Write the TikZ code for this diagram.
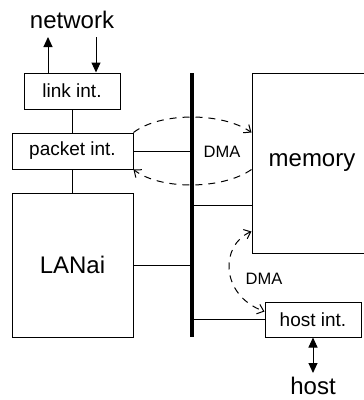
\documentclass[tikz,border=0pt]{standalone}
\usepackage{fontspec}
\setmainfont{Liberation Sans}
\usetikzlibrary{arrows.meta}

\begin{document}
\begin{tikzpicture}[x=1pt,y=-1pt,
    blk/.style={draw,line width=1pt,inner sep=0pt},
    wire/.style={line width=1pt},
    sig/.style={line width=1pt,>={Triangle[length=10pt,width=9pt]}},
    dmaarc/.style={line width=1pt,dash pattern=on 7pt off 6pt,
                   >={Straight Barb[length=6pt,width=10pt]}},
    bigtxt/.style={font=\fontsize{24}{28}\selectfont},
    smalltxt/.style={font=\fontsize{19}{22}\selectfont},
    dmatxt/.style={font=\fontsize{16.5}{19}\selectfont}]
  \useasboundingbox (0,0) rectangle (364,400);

  % interface blocks
  \node[blk,smalltxt,minimum width=96pt,minimum height=36pt]
    (link) at (72,91) {link int.};
  \node[blk,smalltxt,minimum width=121pt,minimum height=36pt]
    (packet) at (72.5,151) {packet int.};
  \node[blk,bigtxt,minimum width=121pt,minimum height=144pt]
    (lanai) at (72.5,265) {LANai};
  \node[blk,bigtxt,minimum width=120pt,minimum height=180pt]
    (memory) at (312,163) {memory};
  \node[blk,smalltxt,minimum width=96pt,minimum height=35pt]
    (hostint) at (313,319.5) {host int.};

  \node[bigtxt,inner sep=1pt] (network) at (72,20) {network};
  \node[bigtxt,inner sep=1pt] (host) at (313,386) {host};

  % bus
  \coordinate (bustop) at (192,73);
  \coordinate (busbot) at (192,337);
  \draw[line width=4.5pt] (bustop) -- (busbot);

  \coordinate (netout) at (48,37);
  \coordinate (netin) at (96,37);
  \coordinate (hostend) at (313,373);
  \coordinate (memtap) at (192,205);

  \draw[sig,->] (link.north -| netout) -- (netout);
  \draw[sig,->] (netin) -- (link.north -| netin);
  \draw[sig,<->] (hostint.south) -- (hostend);

  \draw[wire] (link.south) -- (link.south |- packet.north);
  \draw[wire] (packet.south -| link.south) -- (lanai.north -| link.south);
  \draw[wire] (packet.east) -- (packet.east -| bustop);
  \draw[wire] (lanai.east) -- (lanai.east -| bustop);
  \draw[wire] (memtap) -- (memtap -| memory.west);
  \draw[wire] (hostint.west -| bustop) -- (hostint.west);

  % DMA transfers
  \draw[dmaarc,->] (packet.north east)
    .. controls (160,112) and (222,112) .. ([yshift=-60pt]memory.north west);
  \draw[dmaarc,->] ([yshift=-97pt]memory.north west)
    .. controls (222,190) and (160,190) .. (packet.south east);
  \draw[dmaarc,<->] ([yshift=-159pt]memory.north west)
    .. controls (220,245) and (220,295) .. ([yshift=-10pt]hostint.north west);
  \node[dmatxt] (dmaone) at (222,152) {DMA};
  \node[dmatxt] (dmatwo) at (264,279) {DMA};
\end{tikzpicture}
\end{document}
